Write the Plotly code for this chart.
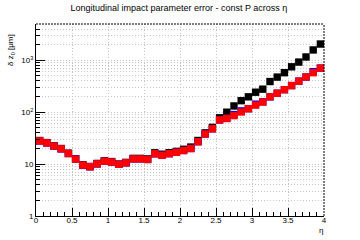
import plotly.graph_objects as go

eta = [0.05, 0.15, 0.25, 0.35, 0.45, 0.55, 0.65, 0.75, 0.85, 0.95,
       1.05, 1.15, 1.25, 1.35, 1.45, 1.55, 1.65, 1.75, 1.85, 1.95,
       2.05, 2.15, 2.25, 2.35, 2.45, 2.55, 2.65, 2.75, 2.85, 2.95,
       3.05, 3.15, 3.25, 3.35, 3.45, 3.55, 3.65, 3.75, 3.85, 3.95]

black_vals = [28.5, 26, 22.6, 20, 16.2, 12.7, 9.7, 9.0, 10.3, 11.6,
              11.2, 10.0, 10.8, 12.9, 12.9, 12.6, 16.5, 15.5, 16.6, 17.6,
              19.3, 21.3, 28.5, 40, 51, 78, 100, 132, 167, 198,
              243, 278, 390, 475, 578, 750, 925, 1160, 1585, 2060]

blue_vals = [28, 25.7, 22.3, 19.7, 16.0, 12.5, 9.6, 8.9, 10.1, 11.4,
             11.0, 9.9, 10.6, 12.6, 12.6, 12.3, 15.8, 14.8, 15.9, 16.9,
             18.3, 20.0, 27, 38, 48, 71, 76, 90, 106, 117,
             143, 159, 198, 232, 272, 326, 397, 477, 605, 708]

red_vals = [28, 25.7, 22.3, 19.7, 16.0, 12.5, 9.6, 8.9, 10.1, 11.4,
            11.0, 9.9, 10.6, 12.6, 12.6, 12.3, 15.8, 14.8, 15.9, 16.9,
            18.3, 20.0, 27, 38, 48, 71, 76, 86, 101, 117,
            137, 157, 198, 232, 272, 326, 397, 477, 578, 708]

y_major = [1, 10, 100, 1000]
y_major_text = ["1", "10", "10<sup>2</sup>", "10<sup>3</sup>"]
y_minor = [2, 3, 4, 5, 6, 7, 8, 9, 20, 30, 40, 50, 60, 70, 80, 90,
           200, 300, 400, 500, 600, 700, 800, 900, 2000, 3000, 4000]

FONT = "Liberation Sans, Arial, sans-serif"
MS = 7.4

fig = go.Figure()
for vals, col in [(black_vals, "black"), (blue_vals, "blue"), (red_vals, "red")]:
    fig.add_trace(go.Scatter(x=eta, y=vals, mode="markers",
                             marker=dict(symbol="square", size=MS, color=col, line=dict(width=0)),
                             showlegend=False, cliponaxis=False))

grid_col = "#c4c4c4"
grid_dash = "1px,2px"
fig.update_layout(
    width=360, height=240,
    margin=dict(l=36, r=36, t=24, b=24),
    paper_bgcolor="white", plot_bgcolor="white",
    font=dict(family=FONT, size=8, color="black"),
    title=dict(text="Longitudinal impact parameter error - const P across η",
               x=0.497, xanchor="center", y=0.966, yanchor="middle",
               font=dict(size=9, family=FONT)),
    xaxis=dict(range=[0, 4], tickmode="linear", tick0=0, dtick=0.5,
               ticks="inside", ticklen=8, tickwidth=1, tickcolor="black",
               showline=True, linecolor="black", linewidth=1, mirror=False,
               showgrid=True, gridcolor=grid_col, griddash=grid_dash, gridwidth=1,
               zeroline=False, ticklabelstandoff=-4,
               tickfont=dict(size=8, family=FONT),
               minor=dict(dtick=0.1, tick0=0, ticks="inside", ticklen=4,
                          tickcolor="black", showgrid=False)),
    yaxis=dict(type="log", range=[0, 3.70], tickmode="array",
               tickvals=y_major, ticktext=y_major_text,
               ticks="inside", ticklen=9, tickwidth=1, tickcolor="black",
               showline=True, linecolor="black", linewidth=1, mirror=False,
               showgrid=True, gridcolor=grid_col, griddash=grid_dash, gridwidth=1,
               zeroline=False,
               tickfont=dict(size=8, family=FONT),
               minor=dict(tickmode="array", tickvals=y_minor, ticks="inside",
                          ticklen=4, tickcolor="black", showgrid=True,
                          gridcolor=grid_col, griddash=grid_dash, gridwidth=1)),
)

# dashed frame top and right
fig.add_shape(type="line", xref="paper", yref="paper", x0=0, x1=1, y0=1, y1=1,
              line=dict(color="black", width=1, dash="2px,1px"))
fig.add_shape(type="line", xref="paper", yref="paper", x0=1, x1=1, y0=0, y1=1,
              line=dict(color="black", width=1, dash="2px,1px"))

fig.add_annotation(text="δ z<sub>0</sub> [μm]", xref="paper", yref="paper",
                   x=-25/288, y=1 - 8/192, xanchor="center", yanchor="top",
                   textangle=-90, showarrow=False, font=dict(size=8, family=FONT))
fig.add_annotation(text="η", xref="paper", yref="paper",
                   x=1 - 3/288, y=-14/192, xanchor="center", yanchor="middle",
                   showarrow=False, font=dict(size=8, family=FONT))

fig.write_html("out.html")
